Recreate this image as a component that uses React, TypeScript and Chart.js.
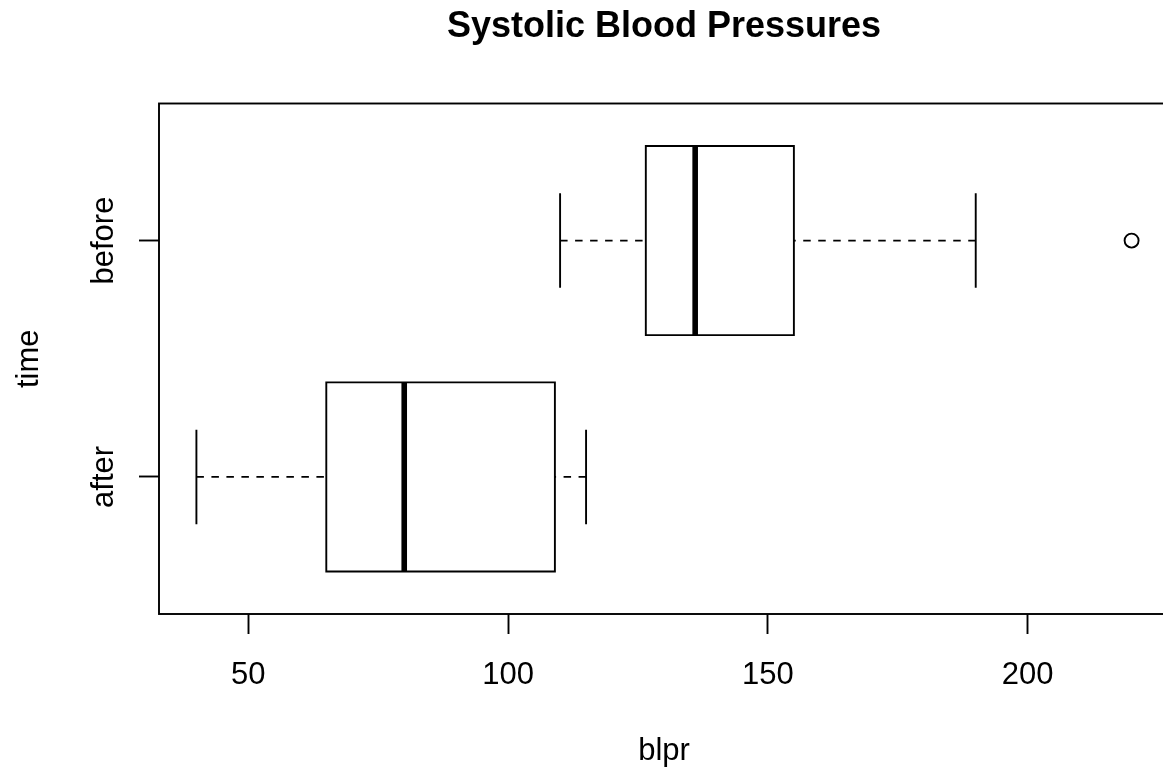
import { useEffect, useRef } from 'react';
import { Chart, registerables } from 'chart.js';

Chart.register(...registerables);

// ---- data ----
const categories = ['after', 'before'];
const whiskerLow = [40, 110];
const q1 = [65, 126.5];
const medians = [80, 136];
const q3 = [109, 155];
const whiskerHigh = [115, 190];
const outliers: number[][] = [[], [220]];
const xTicks = [50, 100, 150, 200];

const FONT = "'Liberation Sans', Arial, Helvetica, sans-serif";
const LW = 1.9;
const BOX_HALF = 0.4;
const STAPLE_HALF = 0.2;

// R-style axis extension (4%)
const allVals = [...whiskerLow, ...whiskerHigh, ...outliers.flat()];
const lo = Math.min(...allVals);
const hi = Math.max(...allVals);
const xMin = lo - (hi - lo) * 0.04;
const xMax = hi + (hi - lo) * 0.04;
const yMin = 0.5 - categories.length * 0.04;
const yMax = categories.length + 0.5 + categories.length * 0.04;

function lineDs(data: { x: number; y: number }[], extra: Record<string, unknown> = {}) {
  return {
    type: 'scatter' as const,
    data,
    showLine: true,
    borderColor: '#000',
    borderWidth: LW,
    pointRadius: 0,
    pointHoverRadius: 0,
    fill: false,
    tension: 0,
    borderCapStyle: 'butt',
    borderJoinStyle: 'miter',
    ...extra,
  };
}

function buildDatasets() {
  const ds: any[] = [];
  categories.forEach((_, i) => {
    const y = i + 1;
    // whiskers (dashed), drawn from the whisker end toward the box, like R
    ds.push(lineDs([{ x: whiskerLow[i], y }, { x: q1[i], y }], { borderDash: [7.5, 7.5] }));
    ds.push(lineDs([{ x: whiskerHigh[i], y }, { x: q3[i], y }], { borderDash: [7.5, 7.5] }));
    // staples
    ds.push(lineDs([{ x: whiskerLow[i], y: y - STAPLE_HALF }, { x: whiskerLow[i], y: y + STAPLE_HALF }]));
    ds.push(lineDs([{ x: whiskerHigh[i], y: y - STAPLE_HALF }, { x: whiskerHigh[i], y: y + STAPLE_HALF }]));
    // box
    ds.push(
      lineDs([
        { x: q1[i], y: y - BOX_HALF },
        { x: q3[i], y: y - BOX_HALF },
        { x: q3[i], y: y + BOX_HALF },
        { x: q1[i], y: y + BOX_HALF },
        { x: q1[i], y: y - BOX_HALF },
        { x: q3[i], y: y - BOX_HALF },
      ])
    );
    // median
    ds.push(lineDs([{ x: medians[i], y: y - BOX_HALF }, { x: medians[i], y: y + BOX_HALF }], { borderWidth: 5.6 }));
    // outliers
    if (outliers[i].length) {
      ds.push({
        type: 'scatter',
        data: outliers[i].map((v) => ({ x: v, y })),
        showLine: false,
        pointRadius: 7,
        pointHoverRadius: 7,
        pointBorderWidth: LW,
        pointBorderColor: '#000',
        pointBackgroundColor: 'rgba(0,0,0,0)',
      });
    }
  });
  return ds;
}

const framePlugin = {
  id: 'frame',
  afterDatasetsDraw(chart: any) {
    const { ctx, chartArea } = chart;
    const { left, top, right, bottom } = chartArea;
    ctx.save();
    ctx.strokeStyle = '#000';
    ctx.lineWidth = LW;
    ctx.strokeRect(left, top, right - left, bottom - top);
    ctx.restore();
  },
};

const gridOpts = {
  display: true,
  drawOnChartArea: false,
  drawTicks: true,
  tickLength: 20,
  tickWidth: LW,
  tickColor: '#000',
};

export default function App() {
  const ref = useRef<HTMLCanvasElement | null>(null);

  useEffect(() => {
    if (!ref.current) return;
    const chart = new Chart(ref.current, {
      type: 'scatter',
      data: { datasets: buildDatasets() },
      options: {
        responsive: false,
        animation: false,
        events: [],
        layout: { padding: 0, autoPadding: false },
        plugins: {
          legend: { display: false },
          tooltip: { enabled: false },
          title: {
            display: true,
            text: 'Systolic Blood Pressures',
            fullSize: false,
            color: '#000',
            font: { family: FONT, size: 36, weight: 'bold', lineHeight: 1 },
            padding: { top: 8.6, bottom: 58.9 },
          },
        },
        scales: {
          x: {
            type: 'linear',
            position: 'bottom',
            min: xMin,
            max: xMax,
            afterBuildTicks: (s: any) => {
              s.ticks = xTicks.map((v) => ({ value: v }));
            },
            afterFit: (s: any) => {
              s.height = 153;
            },
            grid: gridOpts,
            border: { display: false },
            ticks: {
              color: '#000',
              font: { family: FONT, size: 31, lineHeight: 1 },
              padding: 26.2,
              maxRotation: 0,
              autoSkip: false,
              callback: (v: any) => String(v),
            },
            title: {
              display: true,
              text: 'blpr',
              color: '#000',
              font: { family: FONT, size: 31, lineHeight: 1 },
              padding: { top: 0, bottom: 0.1 },
            },
          },
          y: {
            type: 'linear',
            position: 'left',
            min: yMin,
            max: yMax,
            afterBuildTicks: (s: any) => {
              s.ticks = categories.map((_, i) => ({ value: i + 1 }));
            },
            afterFit: (s: any) => {
              s.width = 159;
            },
            grid: gridOpts,
            border: { display: false },
            ticks: {
              color: '#000',
              font: { family: FONT, size: 31, lineHeight: 1 },
              minRotation: 90,
              maxRotation: 90,
              crossAlign: 'center',
              padding: -9.6,
              autoSkip: false,
              callback: (v: any) => categories[Math.round(Number(v)) - 1] ?? '',
            },
            title: {
              display: true,
              text: 'time',
              color: '#000',
              font: { family: FONT, size: 31, lineHeight: 1 },
              padding: { top: 13.6, bottom: 0 },
            },
          },
        },
      } as any,
      plugins: [framePlugin],
    });
    return () => chart.destroy();
  }, []);

  return (
    <div
      style={{
        position: 'fixed',
        left: 0,
        top: 0,
        width: 1163,
        height: 767,
        overflow: 'hidden',
        background: '#fff',
      }}
    >
      <canvas ref={ref} width={1169} height={767} style={{ display: 'block' }} />
    </div>
  );
}
